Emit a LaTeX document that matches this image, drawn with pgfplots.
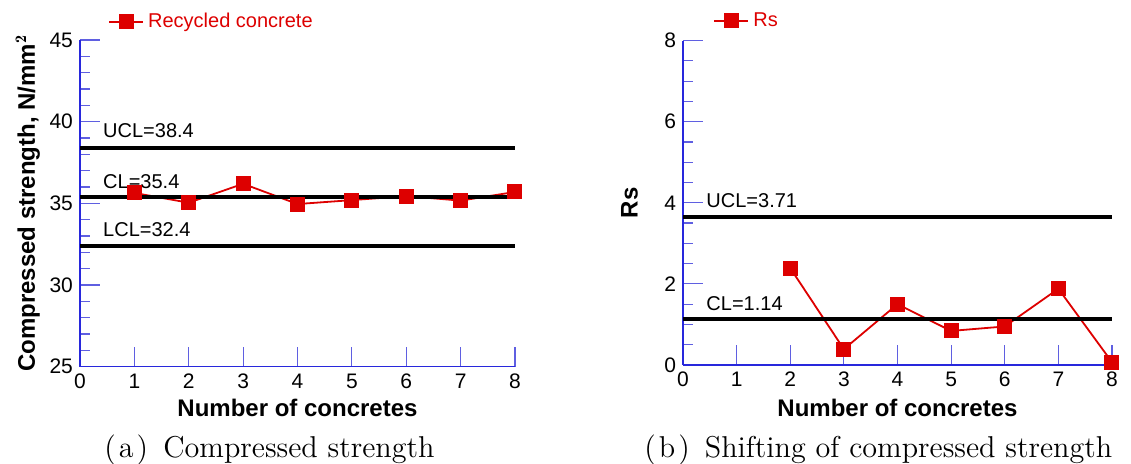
\documentclass[border=0pt]{standalone}
\usepackage{pgfplots}
\pgfplotsset{compat=1.18}
\usepackage{fontspec}
\newfontfamily\arial{Liberation Sans}
\definecolor{myred}{RGB}{221,0,0}
\definecolor{axblue}{RGB}{40,40,220}
\definecolor{tkblue}{RGB}{95,95,225}
\pgfplotsset{
  mystyle/.style={
    scale only axis,
    axis x line=bottom, axis y line=left,
    axis line style={-, axblue, line width=0.6pt},
    tick align=inside,
    major tick length=10pt, minor tick length=5pt,
    every tick/.style={tkblue, line width=0.6pt},
    tick label style={font=\arial\fontsize{10.5}{12}\selectfont},
    /pgf/number format/assume math mode=true,
    label style={font=\arial\bfseries\fontsize{12}{14}\selectfont},
    clip=false,
    xmin=0, xmax=8, xtick={0,...,8},
    legend style={draw=none, fill=none, inner sep=0pt,
      font=\arial\fontsize{10}{12}\selectfont, text=myred, anchor=west},
  },
  redser/.style={myred, line width=0.9pt, mark=square*, mark size=3.3pt,
    mark options={solid, fill=myred}},
  clline/.style={black, line width=2pt, forget plot},
}
\tikzset{cllab/.style={anchor=base west, inner sep=0pt, font=\arial\fontsize{10}{12}\selectfont},
  capt/.style={anchor=base west, inner sep=0pt, scale=1.04, transform shape, font=\fontsize{14.5}{17}\selectfont}}
\begin{document}
\begin{tikzpicture}
\path[use as bounding box] (0,0) rectangle (565.5pt,232pt);
\begin{axis}[mystyle,
  at={(40pt,48.65pt)}, anchor=south west,
  width=217.5pt, height=163.3pt,
  ymin=25, ymax=45, ytick={25,30,...,45}, minor y tick num=4,
  xlabel={Number of concretes},
  ylabel={Compressed strength, N/mm$^{\mathbf{2}}$},
  xlabel style={at={(axis description cs:0.5,-0.1265)}, anchor=center},
  ylabel style={at={(axis description cs:-0.12,0.5)}, anchor=center},
  legend style={at={(axis description cs:0.064,1)}, yshift=9.2pt},
]
\addplot[redser] coordinates {(1,35.64)(2,35.04)(3,36.2)(4,34.96)(5,35.2)(6,35.45)(7,35.17)(8,35.7)};
\addlegendentry{Recycled concrete}
\addplot[clline] coordinates {(0,38.4)(8,38.4)};
\addplot[clline] coordinates {(0,35.4)(8,35.4)};
\addplot[clline] coordinates {(0,32.4)(8,32.4)};
\node[cllab, yshift=5pt] at (axis cs:0.42,38.4) {UCL=38.4};
\node[cllab, yshift=4.3pt] at (axis cs:0.42,35.4) {CL=35.4};
\node[cllab, yshift=4.8pt] at (axis cs:0.42,32.4) {LCL=32.4};
\end{axis}
\begin{axis}[mystyle,
  at={(341.5pt,49.5pt)}, anchor=south west,
  width=214.5pt, height=162.2pt,
  ymin=0, ymax=8, ytick={0,2,...,8}, minor y tick num=3,
  xlabel={Number of concretes},
  ylabel={Rs},
  xlabel style={at={(axis description cs:0.5,-0.1326)}, anchor=center},
  ylabel style={at={(axis description cs:-0.125,0.5)}, anchor=center},
  legend style={at={(axis description cs:0.07,1)}, yshift=9.85pt},
]
\addplot[redser] coordinates {(2,2.39)(3,0.39)(4,1.5)(5,0.84)(6,0.95)(7,1.88)(8,0.07)};
\addlegendentry{Rs}
\addplot[clline] coordinates {(0,3.66)(8,3.66)};
\addplot[clline] coordinates {(0,1.14)(8,1.14)};
\node[cllab, yshift=4.3pt] at (axis cs:0.43,3.66) {UCL=3.71};
\node[cllab, yshift=4pt] at (axis cs:0.43,1.14) {CL=1.14};
\end{axis}
\node[capt] at (52pt,3pt) {(\kern0.1em a\kern0.1em)\hspace{0.5em}Compressed strength};
\node[capt] at (322pt,3pt) {(\kern0.1em b\kern0.1em)\hspace{0.5em}Shifting of compressed strength};
\end{tikzpicture}
\end{document}
